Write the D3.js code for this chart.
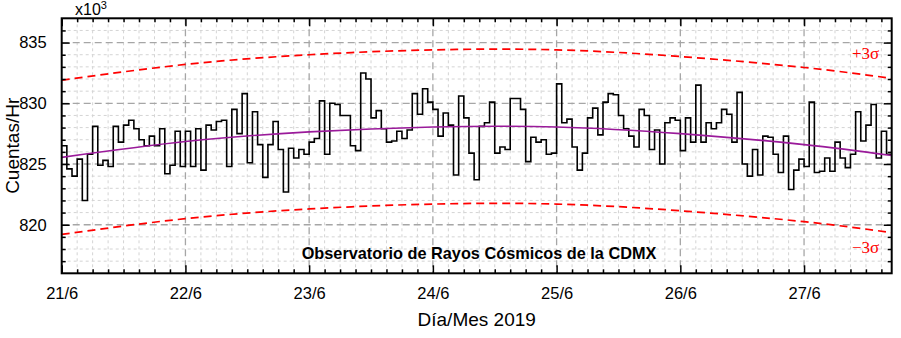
<!DOCTYPE html>
<html>
<head>
<meta charset="utf-8">
<script src="https://cdn.jsdelivr.net/npm/d3@7"></script>
<style>
  html, body { margin: 0; padding: 0; background: #fff; }
  svg { display: block; font-family: Arial, "Liberation Sans", sans-serif; }
</style>
</head>
<body>
<svg id="chart" width="901" height="338"></svg>
<script>
// Hourly cosmic-ray counts (thousands of counts per hour), starting 21/6/2019 00:00 UTC
const counts = [
  826.5, 824.6, 824.0, 825.4, 822.0, 825.8, 828.1, 824.9, 825.3, 824.8,
  828.1, 826.8, 828.2, 828.6, 827.9, 827.0, 826.5, 827.3, 826.5, 827.9,
  824.2, 824.9, 827.7, 824.8, 827.7, 824.8, 827.9, 824.5, 828.2, 827.8,
  828.5, 828.6, 824.8, 829.5, 827.5, 830.8, 825.1, 829.3, 826.6, 823.9,
  826.6, 828.5, 826.2, 822.7, 826.3, 825.5, 826.2, 825.8, 826.8, 827.1,
  830.2, 825.8, 830.0, 829.9, 829.0, 829.0, 826.5, 826.1, 832.5, 832.0,
  828.8, 829.4, 827.9, 826.8, 826.9, 827.7, 827.1, 827.8, 830.8, 829.1,
  831.2, 830.1, 829.5, 827.3, 829.2, 828.2, 824.1, 830.6, 828.8, 825.9,
  823.7, 828.1, 828.4, 830.1, 825.9, 826.4, 826.2, 830.4, 830.4, 829.5,
  825.2, 827.2, 826.8, 827.0, 825.8, 825.9, 831.6, 828.4, 828.7, 826.4,
  824.5, 825.9, 828.8, 829.6, 827.4, 830.1, 830.8, 830.7, 829.0, 827.9,
  827.3, 826.4, 829.5, 829.0, 826.2, 827.8, 825.0, 828.4, 828.8, 828.6,
  826.1, 828.8, 826.8, 831.5, 826.8, 828.4, 827.9, 828.4, 829.5, 829.1,
  826.8, 830.9, 825.0, 824.0, 826.2, 824.1, 827.3, 827.2, 825.8, 824.3,
  827.3, 822.9, 824.5, 825.4, 824.8, 830.1, 824.3, 824.4, 825.5, 824.4,
  826.8, 825.5, 824.7, 825.8, 829.3, 826.9, 828.2, 829.9, 825.5, 827.7,
  825.8
];

// Smooth fit and ±3σ limits, sampled at these hours from the start
const fitHours = [0, 24, 48, 72, 96, 120, 144, 161];
const fitMean  = [825.55, 826.85, 827.65, 828.05, 828.05, 827.5, 826.6, 825.7];
const fitUpper = [831.9, 833.2, 834.0, 834.4, 834.4, 833.85, 832.95, 832.05];
const fitLower = [819.2, 820.5, 821.3, 821.7, 821.7, 821.15, 820.25, 819.35];

const yMajorTicks = [820, 825, 830, 835];
const dayTicks = ["21/6", "22/6", "23/6", "24/6", "25/6", "26/6", "27/6"];

const start = new Date(Date.UTC(2019, 5, 21, 0, 0));
const end = new Date(Date.UTC(2019, 5, 27, 17, 0));
const hourToDate = h => d3.utcHour.offset(start, h);

const margin = { left: 61.7, right: 9.3, top: 18.3, bottom: 64.7 };
const W = 901, H = 338;
const x0 = margin.left, x1 = W - margin.right;
const y0 = margin.top, y1 = H - margin.bottom;

const svg = d3.select("#chart");

const x = d3.scaleUtc().domain([start, end]).range([x0, x1]);
const y = d3.scaleLinear().domain([816, 837]).range([y1, y0]);

const dayDates = d3.utcDay.range(start, end);
const minorDates = d3.utcHour.every(3).range(start, end).filter(d => d.getUTCHours() !== 0);
const yMinor = d3.range(817, 837).filter(v => !yMajorTicks.includes(v));

// grid: fine dashed every 3 h / unit, coarser dashed at days and 5-unit levels
const grid = svg.append("g");
grid.selectAll(".gxm").data(minorDates).join("line")
  .attr("x1", d => x(d)).attr("x2", d => x(d)).attr("y1", y0).attr("y2", y1)
  .attr("stroke", "#d4d4d4").attr("stroke-width", 1).attr("stroke-dasharray", "3,3");
grid.selectAll(".gym").data(yMinor).join("line")
  .attr("x1", x0).attr("x2", x1).attr("y1", d => y(d)).attr("y2", d => y(d))
  .attr("stroke", "#d4d4d4").attr("stroke-width", 1).attr("stroke-dasharray", "3,3");
grid.selectAll(".gxM").data(dayDates.slice(1)).join("line")
  .attr("x1", d => x(d)).attr("x2", d => x(d)).attr("y1", y0).attr("y2", y1)
  .attr("stroke", "#a6a6a6").attr("stroke-width", 1.3).attr("stroke-dasharray", "7,4");
grid.selectAll(".gyM").data(yMajorTicks).join("line")
  .attr("x1", x0).attr("x2", x1).attr("y1", d => y(d)).attr("y2", d => y(d))
  .attr("stroke", "#a6a6a6").attr("stroke-width", 1.3).attr("stroke-dasharray", "7,4");

// ±3σ limits
const fitLine = key => d3.line()
  .x((d, i) => x(hourToDate(fitHours[i])))
  .y(d => y(d))
  .curve(d3.curveNatural)(key);

svg.append("path").attr("d", fitLine(fitUpper))
  .attr("fill", "none").attr("stroke", "#ff0000").attr("stroke-width", 1.7).attr("stroke-dasharray", "8,5");
svg.append("path").attr("d", fitLine(fitLower))
  .attr("fill", "none").attr("stroke", "#ff0000").attr("stroke-width", 1.7).attr("stroke-dasharray", "8,5");

// hourly counts as a step trace
const stepPts = counts.map((v, i) => [hourToDate(i), v]);
stepPts.push([hourToDate(counts.length), counts[counts.length - 1]]);
svg.append("path")
  .attr("d", d3.line().x(d => x(d[0])).y(d => y(d[1])).curve(d3.curveStepAfter)(stepPts))
  .attr("fill", "none").attr("stroke", "#000").attr("stroke-width", 1.6).attr("stroke-linejoin", "miter");

// mean fit
svg.append("path").attr("d", fitLine(fitMean))
  .attr("fill", "none").attr("stroke", "#9a1a9a").attr("stroke-width", 1.6);

// axes with inward ticks on all four sides
const tickFont = g => g.selectAll("text").attr("font-size", 16.5).attr("fill", "#000")
  .attr("font-family", "Arial, 'Liberation Sans', sans-serif");
const fmtDay = (d, i) => dayTicks[i];
svg.append("g").attr("transform", `translate(0,${y1})`)
  .call(d3.axisBottom(x).tickValues(dayDates).tickSize(-8).tickPadding(14).tickFormat(fmtDay))
  .call(g => g.select(".domain").remove())
  .call(tickFont)
  .call(g => g.selectAll("line").attr("stroke-width", 1.5));
svg.append("g").attr("transform", `translate(0,${y1})`)
  .call(d3.axisBottom(x).tickValues(minorDates).tickSize(-4).tickFormat(""))
  .call(g => g.select(".domain").remove())
  .call(g => g.selectAll("line").attr("stroke-width", 1.5));
svg.append("g").attr("transform", `translate(0,${y0})`)
  .call(d3.axisTop(x).tickValues(dayDates).tickSize(-8).tickFormat(""))
  .call(g => g.select(".domain").remove())
  .call(g => g.selectAll("line").attr("stroke-width", 1.5));
svg.append("g").attr("transform", `translate(0,${y0})`)
  .call(d3.axisTop(x).tickValues(minorDates).tickSize(-4).tickFormat(""))
  .call(g => g.select(".domain").remove())
  .call(g => g.selectAll("line").attr("stroke-width", 1.5));

svg.append("g").attr("transform", `translate(${x0},0)`)
  .call(d3.axisLeft(y).tickValues(yMajorTicks).tickSize(-8).tickPadding(15).tickFormat(d3.format("d")))
  .call(g => g.select(".domain").remove())
  .call(tickFont)
  .call(g => g.selectAll("line").attr("stroke-width", 1.5));
svg.append("g").attr("transform", `translate(${x0},0)`)
  .call(d3.axisLeft(y).tickValues(yMinor).tickSize(-4).tickFormat(""))
  .call(g => g.select(".domain").remove())
  .call(g => g.selectAll("line").attr("stroke-width", 1.5));
svg.append("g").attr("transform", `translate(${x1},0)`)
  .call(d3.axisRight(y).tickValues(yMajorTicks).tickSize(-8).tickFormat(""))
  .call(g => g.select(".domain").remove())
  .call(g => g.selectAll("line").attr("stroke-width", 1.5));
svg.append("g").attr("transform", `translate(${x1},0)`)
  .call(d3.axisRight(y).tickValues(yMinor).tickSize(-4).tickFormat(""))
  .call(g => g.select(".domain").remove())
  .call(g => g.selectAll("line").attr("stroke-width", 1.5));

// frame
svg.append("rect").attr("x", x0).attr("y", y0).attr("width", x1 - x0).attr("height", y1 - y0)
  .attr("fill", "none").attr("stroke", "#000").attr("stroke-width", 2);

// labels
const mult = svg.append("text").attr("x", 75).attr("y", 15).attr("font-size", 16).attr("fill", "#000");
mult.append("tspan").text("x10");
mult.append("tspan").attr("font-size", 11).attr("dy", -6).text("3");

svg.append("text")
  .attr("transform", `translate(18.5,${(y0 + y1) / 2}) rotate(-90)`)
  .attr("text-anchor", "middle").attr("font-size", 19).attr("fill", "#000")
  .text("Cuentas/Hr");

svg.append("text").attr("x", (x0 + x1) / 2).attr("y", 326)
  .attr("text-anchor", "middle").attr("font-size", 19).attr("fill", "#000")
  .text("Día/Mes 2019");

svg.append("text").attr("x", 479).attr("y", 259)
  .attr("text-anchor", "middle").attr("font-size", 16.3).attr("font-weight", "bold").attr("fill", "#000")
  .text("Observatorio de Rayos Cósmicos de la CDMX");

svg.append("text").attr("x", 852).attr("y", 58.5)
  .attr("font-family", "'Liberation Serif', 'Times New Roman', serif").attr("font-size", 17).attr("fill", "#ff0000")
  .text("+3σ");
svg.append("text").attr("x", 852).attr("y", 253)
  .attr("font-family", "'Liberation Serif', 'Times New Roman', serif").attr("font-size", 17).attr("fill", "#ff0000")
  .text("−3σ");
</script>
</body>
</html>
